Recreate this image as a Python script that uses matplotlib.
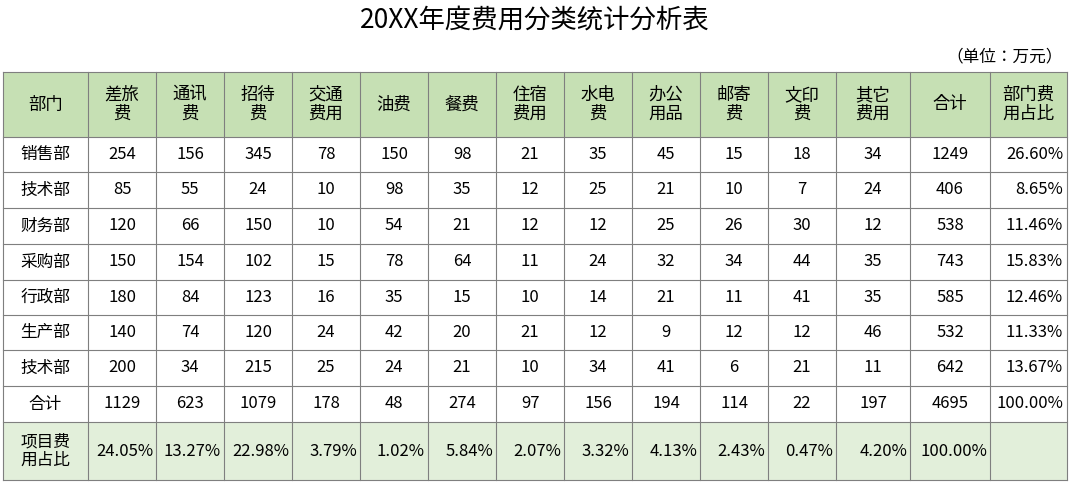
import matplotlib
matplotlib.use("Agg")
import matplotlib.pyplot as plt
from matplotlib.patches import Rectangle
from matplotlib import font_manager as fm

cjk = None
for f in fm.findSystemFonts():
    if "CJK" in f or "cjk" in f.lower():
        try:
            fm.fontManager.addfont(f)
        except Exception:
            pass
names = [f.name for f in fm.fontManager.ttflist]
for n in ["Noto Sans CJK SC", "Noto Sans CJK JP", "Noto Sans CJK TC", "Noto Sans CJK KR"]:
    if n in names:
        cjk = n; break
if cjk is None:
    cjk = next((n for n in names if "CJK" in n), "DejaVu Sans")
plt.rcParams["font.family"] = [cjk, "DejaVu Sans"]

title = "20XX年度费用分类统计分析表"
unit = "（单位：万元）"
headers = ["部门", "差旅\n费", "通讯\n费", "招待\n费", "交通\n费用", "油费", "餐费", "住宿\n费用",
           "水电\n费", "办公\n用品", "邮寄\n费", "文印\n费", "其它\n费用", "合计", "部门费\n用占比"]
depts = ["销售部", "技术部", "财务部", "采购部", "行政部", "生产部", "技术部", "合计"]
values = [
    [254, 156, 345, 78, 150, 98, 21, 35, 45, 15, 18, 34, 1249],
    [85, 55, 24, 10, 98, 35, 12, 25, 21, 10, 7, 24, 406],
    [120, 66, 150, 10, 54, 21, 12, 12, 25, 26, 30, 12, 538],
    [150, 154, 102, 15, 78, 64, 11, 24, 32, 34, 44, 35, 743],
    [180, 84, 123, 16, 35, 15, 10, 14, 21, 11, 41, 35, 585],
    [140, 74, 120, 24, 42, 20, 21, 12, 9, 12, 12, 46, 532],
    [200, 34, 215, 25, 24, 21, 10, 34, 41, 6, 21, 11, 642],
    [1129, 623, 1079, 178, 48, 274, 97, 156, 194, 114, 22, 197, 4695],
]
dept_share = ["26.60%", "8.65%", "11.46%", "15.83%", "12.46%", "11.33%", "13.67%", "100.00%"]
item_label = "项目费\n用占比"
item_share = ["24.05%", "13.27%", "22.98%", "3.79%", "1.02%", "5.84%", "2.07%", "3.32%",
              "4.13%", "2.43%", "0.47%", "4.20%", "100.00%", ""]

fig = plt.figure(figsize=(10.8, 4.95), dpi=100)
ax = fig.add_axes([0, 0, 1, 1])
ax.set_xlim(0, 1080); ax.set_ylim(495, 0); ax.axis("off")

xs = [3, 88, 156, 224, 292, 360, 428, 496, 564, 632, 700, 768, 836, 910, 990, 1067]
ys = [72, 137, 172, 208, 244, 280, 315, 350, 386, 422, 480]

ax.text(535, 20, title, ha="center", va="center", fontsize=19)
ax.text(1063, 57, unit, ha="right", va="center", fontsize=12)

ax.add_patch(Rectangle((xs[0], ys[0]), xs[-1]-xs[0], ys[1]-ys[0], fc="#c6e0b4", ec="none"))
ax.add_patch(Rectangle((xs[0], ys[-2]), xs[-1]-xs[0], ys[-1]-ys[-2], fc="#e2efda", ec="none"))
lc = "#7f7f7f"
for x in xs:
    ax.plot([x, x], [ys[0], ys[-1]], color=lc, lw=0.8)
for y in ys:
    ax.plot([xs[0], xs[-1]], [y, y], color=lc, lw=0.8)

def cx(i): return (xs[i] + xs[i+1]) / 2
def cy(j): return (ys[j] + ys[j+1]) / 2

fs = 12
for i, h in enumerate(headers):
    ax.text(cx(i), cy(0), h, ha="center", va="center", fontsize=12.5, linespacing=1.1)
for r, d in enumerate(depts):
    ax.text(cx(0), cy(r+1), d, ha="center", va="center", fontsize=fs)
    for c, v in enumerate(values[r]):
        ax.text(cx(c+1), cy(r+1), str(v), ha="center", va="center", fontsize=fs)
    ax.text(xs[-1]-4, cy(r+1), dept_share[r], ha="right", va="center", fontsize=fs)
ax.text(cx(0), cy(9), item_label, ha="center", va="center", fontsize=fs, linespacing=1.1)
for c, s in enumerate(item_share):
    if s:
        ax.text(xs[c+2]-3, cy(9), s, ha="right", va="center", fontsize=fs)

fig.savefig("out.png", dpi=100)
